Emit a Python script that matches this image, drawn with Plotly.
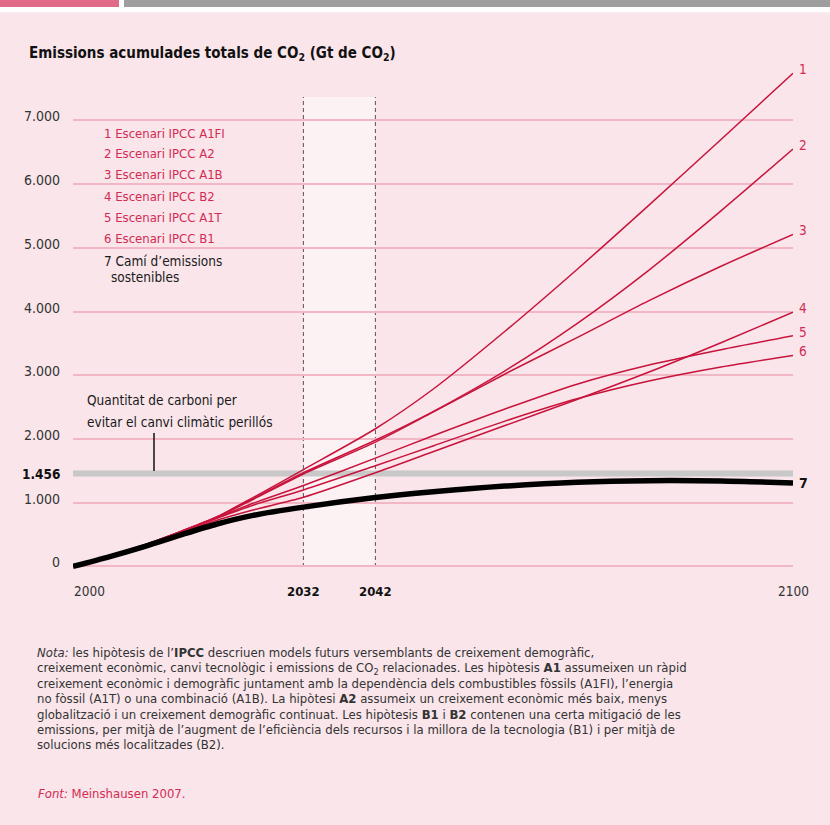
import plotly.graph_objects as go

# ---------------- data ----------------
years = [2000, 2005, 2010, 2015, 2020, 2025, 2032, 2042, 2050, 2060, 2070, 2080, 2090, 2100]
a1fi = [0, 160, 340, 550, 780, 1080, 1520, 2160, 2780, 3690, 4660, 5670, 6700, 7740]
a2 = [0, 160, 340, 550, 775, 1060, 1470, 1980, 2430, 3070, 3810, 4650, 5580, 6550]
a1b = [0, 160, 340, 550, 772, 1050, 1450, 1950, 2420, 3020, 3590, 4170, 4710, 5210]
b2 = [0, 158, 335, 535, 725, 885, 1085, 1470, 1800, 2210, 2620, 3050, 3510, 3990]
a1t = [0, 160, 338, 548, 765, 990, 1270, 1700, 2050, 2470, 2860, 3160, 3400, 3620]
b1 = [0, 159, 336, 545, 755, 960, 1200, 1580, 1890, 2280, 2630, 2910, 3130, 3310]
sustainable = [0, 150, 315, 495, 665, 800, 930, 1080, 1170, 1260, 1320, 1345, 1340, 1310]

series_names = ["1 Escenari IPCC A1FI", "2 Escenari IPCC A2", "3 Escenari IPCC A1B",
                "4 Escenari IPCC B2", "5 Escenari IPCC A1T", "6 Escenari IPCC B1"]
series_values = [a1fi, a2, a1b, b2, a1t, b1]
end_labels = ["1", "2", "3", "4", "5", "6"]

y_ticks = [0, 1000, 2000, 3000, 4000, 5000, 6000, 7000]
y_tick_text = ["0", "1.000", "2.000", "3.000", "4.000", "5.000", "6.000", "7.000"]
threshold = 1456
threshold_text = "1.456"
x_ticks = [2000, 2032, 2042, 2100]
x_tick_text = ["2000", "<b>2032</b>", "<b>2042</b>", "2100"]
period = [2032, 2042]

notes = [
    "<i>Nota:</i> les hipòtesis de l’<b>IPCC</b> descriuen models futurs versemblants de creixement demogràfic,",
    "creixement econòmic, canvi tecnològic i emissions de CO<sub>2</sub> relacionades. Les hipòtesis <b>A1</b> assumeixen un ràpid",
    "creixement econòmic i demogràfic juntament amb la dependència dels combustibles fòssils (A1FI), l’energia",
    "no fòssil (A1T) o una combinació (A1B). La hipòtesi <b>A2</b> assumeix un creixement econòmic més baix, menys",
    "globalització i un creixement demogràfic continuat. Les hipòtesis <b>B1</b> i <b>B2</b> contenen una certa mitigació de les",
    "emissions, per mitjà de l’augment de l’eficiència dels recursos i la millora de la tecnologia (B1) i per mitjà de",
    "solucions més localitzades (B2).",
]
source = "<i>Font:</i> Meinshausen 2007."
title = "<b>Emissions acumulades totals de CO<sub>2</sub> (Gt de CO<sub>2</sub>)</b>"

# ---------------- style ----------------
FONT = "DejaVu Sans Condensed, Liberation Sans Narrow, sans-serif"
BG = "#f9e5ea"
GRID = "#f1b7c5"
RED = "#c8143c"
RED_TXT = "#d42a52"
TXT = "#333333"

W, H = 830, 825
L, R, T, B = 73, 793, 60, 610


def px(x):
    return (x - L) / (R - L)


def py(y):
    return (B - y) / (B - T)


fig = go.Figure()

for vals in series_values:
    fig.add_trace(go.Scatter(x=years, y=vals, mode="lines",
                             line=dict(color=RED, width=1.5, shape="spline", smoothing=0.8),
                             hoverinfo="skip", showlegend=False))
fig.add_trace(go.Scatter(x=years, y=sustainable, mode="lines",
                         line=dict(color="#000000", width=5.5, shape="spline", smoothing=0.8),
                         hoverinfo="skip", showlegend=False))

shapes = []
# top decoration
shapes.append(dict(type="rect", xref="paper", yref="paper", x0=px(0), x1=px(W), y0=py(12.3), y1=py(0),
                   fillcolor="white", line=dict(width=0), layer="below"))
shapes.append(dict(type="rect", xref="paper", yref="paper", x0=px(0), x1=px(119), y0=py(7), y1=py(0),
                   fillcolor="#e06a88", line=dict(width=0), layer="below"))
shapes.append(dict(type="rect", xref="paper", yref="paper", x0=px(124), x1=px(W), y0=py(7), y1=py(0),
                   fillcolor="#9e9e9e", line=dict(width=0), layer="below"))
# highlighted period
shapes.append(dict(type="rect", xref="x", yref="paper", x0=period[0], x1=period[1], y0=py(567), y1=py(97),
                   fillcolor="#fcf2f4", line=dict(width=0), layer="below"))
for p in period:
    shapes.append(dict(type="line", xref="x", yref="paper", x0=p, x1=p, y0=py(567), y1=py(97),
                       line=dict(color="#555555", width=1, dash="4px,3px"), layer="between"))
# threshold band
shapes.append(dict(type="line", xref="x", yref="y", x0=years[0], x1=years[-1], y0=threshold, y1=threshold,
                   line=dict(color="#c8c8c8", width=6), layer="between"))
# pointer
shapes.append(dict(type="line", xref="paper", yref="paper", x0=px(154), x1=px(154), y0=py(433), y1=py(471),
                   line=dict(color="#111111", width=1.5)))

ann = []
ann.append(dict(text=title, xref="paper", yref="paper", x=px(27), y=py(54), xanchor="left", yanchor="middle",
                showarrow=False, font=dict(size=15, color="#111111", family=FONT)))
for v, t in zip(y_ticks, y_tick_text):
    ann.append(dict(text=t, xref="paper", yref="y", x=px(62), y=v, xanchor="right", yanchor="middle",
                    yshift=4, showarrow=False, font=dict(size=14, color=TXT, family=FONT)))
ann.append(dict(text="<b>" + threshold_text + "</b>", xref="paper", yref="y", x=px(62), y=threshold,
                xanchor="right", yanchor="middle", showarrow=False, font=dict(size=13.5, color="#111111", family=FONT)))
for v, t in zip(x_ticks, x_tick_text):
    bold = "<b>" in t
    ann.append(dict(text=t, xref="x", yref="paper", x=v, y=py(591),
                    xanchor="left" if v == x_ticks[0] else "center", xshift=-1 if v == x_ticks[0] else 0,
                    yanchor="middle", showarrow=False,
                    font=dict(size=13 if bold else 13.5, color="#111111" if bold else TXT, family=FONT)))
# legend
leg_y = [133.3, 153.8, 174.3, 196.8, 217.3, 238]
for name, yy in zip(series_names, leg_y):
    ann.append(dict(text=name, xref="paper", yref="paper", x=px(102), y=py(yy), xanchor="left", yanchor="middle",
                    showarrow=False, font=dict(size=13, color=RED_TXT, family=FONT)))
ann.append(dict(text="7 Camí d’emissions", xref="paper", yref="paper", x=px(102), y=py(261), xanchor="left",
                yanchor="middle", showarrow=False, font=dict(size=13.5, color="#1a1a1a", family=FONT)))
ann.append(dict(text="sostenibles", xref="paper", yref="paper", x=px(109), y=py(277), xanchor="left",
                yanchor="middle", showarrow=False, font=dict(size=13.5, color="#1a1a1a", family=FONT)))
# end labels
for lab, vals in zip(end_labels, series_values):
    ann.append(dict(text=lab, xref="x", yref="y", x=years[-1], y=vals[-1], xanchor="left", yanchor="middle",
                    xshift=4, yshift=4, showarrow=False, font=dict(size=13.5, color=RED_TXT, family=FONT)))
ann.append(dict(text="<b>7</b>", xref="x", yref="y", x=years[-1], y=sustainable[-1], xanchor="left",
                yanchor="middle", xshift=4, showarrow=False, font=dict(size=14, color="#111111", family=FONT)))
# threshold annotation
ann.append(dict(text="Quantitat de carboni per", xref="paper", yref="paper", x=px(85), y=py(400),
                xanchor="left", yanchor="middle", showarrow=False, font=dict(size=13.5, color="#1a1a1a", family=FONT)))
ann.append(dict(text="evitar el canvi climàtic perillós", xref="paper", yref="paper", x=px(85), y=py(421.7),
                xanchor="left", yanchor="middle", showarrow=False, font=dict(size=13.5, color="#1a1a1a", family=FONT)))
# notes
for i, line in enumerate(notes):
    ann.append(dict(text=line, xref="paper", yref="paper", x=px(36), y=py(652.7 + i * 15.35),
                    xanchor="left", yanchor="middle", showarrow=False, borderpad=0,
                    font=dict(size=13, color=TXT, family=FONT)))
ann.append(dict(text=source, xref="paper", yref="paper", x=px(36), y=py(793.3), xanchor="left",
                yanchor="middle", showarrow=False, font=dict(size=13, color=RED_TXT, family=FONT)))

fig.update_layout(
    width=W, height=H,
    margin=dict(l=L, r=W - R, t=T, b=H - B),
    paper_bgcolor=BG, plot_bgcolor=BG,
    xaxis=dict(range=[years[0], years[-1]], showgrid=False, zeroline=False, showticklabels=False,
               showline=False, ticks=""),
    yaxis=dict(range=[(566.4 - B) / 0.06372, (566.4 - T) / 0.06372], tickvals=y_ticks, showgrid=True,
               gridcolor=GRID, gridwidth=2, zeroline=False, showticklabels=False, ticks="", showline=False),
    shapes=shapes, annotations=ann,
    font=dict(family=FONT),
)

fig.write_html("out.html", config={"displayModeBar": False},
               post_script="document.body.style.margin='0';document.body.style.padding='0';")
